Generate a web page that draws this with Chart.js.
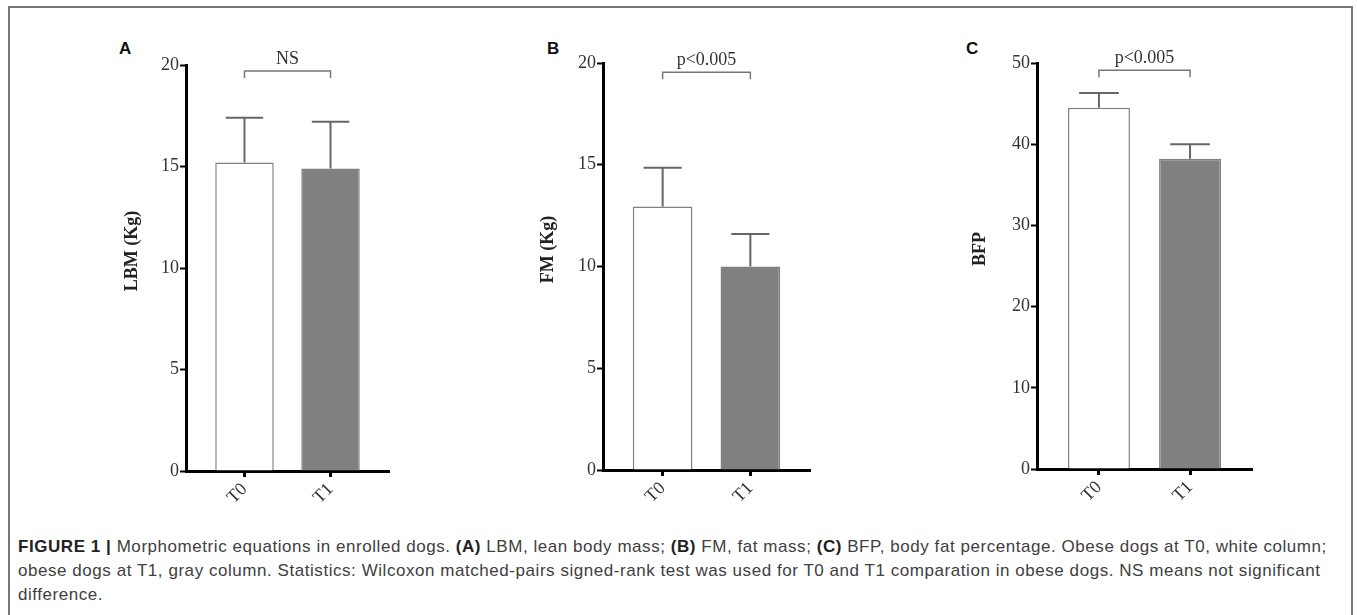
<!DOCTYPE html>
<html>
<head>
<meta charset="utf-8">
<script src="https://cdn.jsdelivr.net/npm/chart.js@4/dist/chart.umd.min.js"></script>
<style>
  html, body { margin: 0; padding: 0; background: #fff; }
  body { width: 1357px; height: 615px; position: relative; overflow: hidden; }
  .frame { position: absolute; left: 8px; top: 6px; width: 1345px; height: 640px;
           border: 2px solid #777; border-bottom: none; box-sizing: border-box; }
  .panel { position: absolute; }
  .letter { position: absolute; font: bold 17px "Liberation Sans", Arial, sans-serif; color: #111; }
  .caption { position: absolute; left: 18px; top: 535px; width: 1335px;
             font: 17px "Liberation Sans", Arial, sans-serif; letter-spacing: 0.55px;
             color: #404040; line-height: 24px; white-space: nowrap; }
  .caption b { color: #222; }
</style>
</head>
<body>
<div class="frame"></div>

<div class="letter" style="left:119px; top:39px;">A</div>
<div class="letter" style="left:547px; top:39px;">B</div>
<div class="letter" style="left:966px; top:39px;">C</div>

<div class="panel" id="pA"><canvas id="cA"></canvas></div>
<div class="panel" id="pB"><canvas id="cB"></canvas></div>
<div class="panel" id="pC"><canvas id="cC"></canvas></div>

<div class="caption">
<b>FIGURE 1 |</b> Morphometric equations in enrolled dogs. <b>(A)</b> LBM, lean body mass; <b>(B)</b> FM, fat mass; <b>(C)</b> BFP, body fat percentage. Obese dogs at T0, white column;<br>
obese dogs at T1, gray column. Statistics: Wilcoxon matched-pairs signed-rank test was used for T0 and T1 comparation in obese dogs. NS means not significant<br>
difference.
</div>

<script>
// 데이터
const categories = ['T0', 'T1'];

const lbmMean = [15.2, 14.9];
const lbmErr  = [2.2, 2.3];

const fmMean = [12.95, 10.0];
const fmErr  = [1.9, 1.6];

const bfpMean = [44.5, 38.2];
const bfpErr  = [1.8, 1.8];

const lbmTicks = [0, 5, 10, 15, 20];
const fmTicks  = [0, 5, 10, 15, 20];
const bfpTicks = [0, 10, 20, 30, 40, 50];

const barFill = ['#ffffff', '#808080'];
const serif = '"Liberation Serif", "Times New Roman", serif';

// 오차 막대, 유의성 괄호, y축 제목
const extrasPlugin = {
  id: 'extras',
  afterDatasetsDraw(chart, args, opts) {
    const { ctx, chartArea, scales: { x, y } } = chart;
    const meta = chart.getDatasetMeta(0);
    ctx.save();
    ctx.strokeStyle = '#666';
    ctx.lineWidth = 2;
    meta.data.forEach((bar, i) => {
      const top = y.getPixelForValue(opts.mean[i] + opts.err[i]);
      const half = bar.width * 0.32;
      ctx.beginPath();
      ctx.moveTo(bar.x, bar.y);
      ctx.lineTo(bar.x, top);
      ctx.moveTo(bar.x - half, top);
      ctx.lineTo(bar.x + half, top);
      ctx.stroke();
    });

    // 괄호
    const x0 = x.getPixelForValue(1);
    const x1 = x.getPixelForValue(2);
    const by = y.getPixelForValue(opts.bracketAt);
    ctx.strokeStyle = '#777';
    ctx.lineWidth = 1.5;
    ctx.beginPath();
    ctx.moveTo(x0, by + 7);
    ctx.lineTo(x0, by);
    ctx.lineTo(x1, by);
    ctx.lineTo(x1, by + 7);
    ctx.stroke();
    ctx.fillStyle = '#333';
    ctx.font = '18px ' + serif;
    ctx.textAlign = 'center';
    ctx.textBaseline = 'bottom';
    ctx.fillText(opts.label, (x0 + x1) / 2, by - 3);

    // y축 제목 (원본은 중앙보다 약간 위)
    ctx.fillStyle = '#222';
    ctx.font = 'bold 18px ' + serif;
    ctx.translate(chartArea.left - opts.titleDx, (chartArea.top + chartArea.bottom) / 2 - 17);
    ctx.rotate(-Math.PI / 2);
    ctx.textBaseline = 'middle';
    ctx.fillText(opts.title, 0, 0);
    ctx.restore();
  }
};

// area: 차트 영역(축 기준) 좌표
function makePanel(id, canvasId, area, yTitle, titleDx, yMax, yTicks, mean, err, bracketAt, label) {
  const yW = 80, xH = 50, padTop = 35, padRight = 10;
  const L = area.left - yW, T = area.top - padTop;
  const W = area.right + padRight - L, H = area.bottom + xH - T;
  const box = document.getElementById(id);
  box.style.left = L + 'px';
  box.style.top = T + 'px';
  box.style.width = W + 'px';
  box.style.height = H + 'px';

  new Chart(document.getElementById(canvasId), {
    type: 'bar',
    data: {
      datasets: [{
        data: mean.map((v, i) => ({ x: i + 1, y: v })),
        backgroundColor: barFill,
        borderColor: '#808080',
        borderWidth: 1.5,
        barPercentage: 0.68,
        categoryPercentage: 1
      }]
    },
    options: {
      responsive: true,
      maintainAspectRatio: false,
      animation: false,
      devicePixelRatio: 1,
      layout: { padding: { top: padTop, right: padRight, left: 0, bottom: 0 } },
      plugins: {
        legend: { display: false },
        tooltip: { enabled: false },
        extras: { mean, err, bracketAt, label, title: yTitle, titleDx }
      },
      scales: {
        x: {
          type: 'linear',
          offset: false,
          min: 0.32,
          max: 2.68,
          afterBuildTicks: s => { s.ticks = categories.map((c, i) => ({ value: i + 1 })); },
          afterFit: s => { s.height = xH; },
          ticks: {
            callback: v => categories[v - 1],
            minRotation: 45,
            maxRotation: 45,
            autoSkip: false,
            padding: 2,
            color: '#333',
            font: { family: serif, size: 18 }
          },
          grid: { drawOnChartArea: false, drawTicks: true, tickLength: 6, tickWidth: 3, tickColor: '#000', offset: false },
          border: { display: true, color: '#000', width: 3 }
        },
        y: {
          min: 0,
          max: yMax,
          afterBuildTicks: s => { s.ticks = yTicks.map(v => ({ value: v })); },
          afterFit: s => { s.width = yW; },
          ticks: {
            padding: 1,
            color: '#333',
            font: { family: serif, size: 18 }
          },
          grid: { drawOnChartArea: false, drawTicks: true, tickLength: 6, tickWidth: 2, tickColor: '#000' },
          border: { display: true, color: '#000', width: 3 }
        }
      }
    },
    plugins: [extrasPlugin]
  });
}

makePanel('pA', 'cA', { left: 186, right: 389, top: 65, bottom: 471 }, 'LBM (Kg)', 54, 20, lbmTicks, lbmMean, lbmErr, 19.7, 'NS');
makePanel('pB', 'cB', { left: 603, right: 810, top: 63, bottom: 470 }, 'FM (Kg)', 55, 20, fmTicks, fmMean, fmErr, 19.55, 'p<0.005');
makePanel('pC', 'cC', { left: 1037, right: 1252, top: 63, bottom: 469 }, 'BFP', 57, 50, bfpTicks, bfpMean, bfpErr, 49.1, 'p<0.005');
</script>
</body>
</html>
